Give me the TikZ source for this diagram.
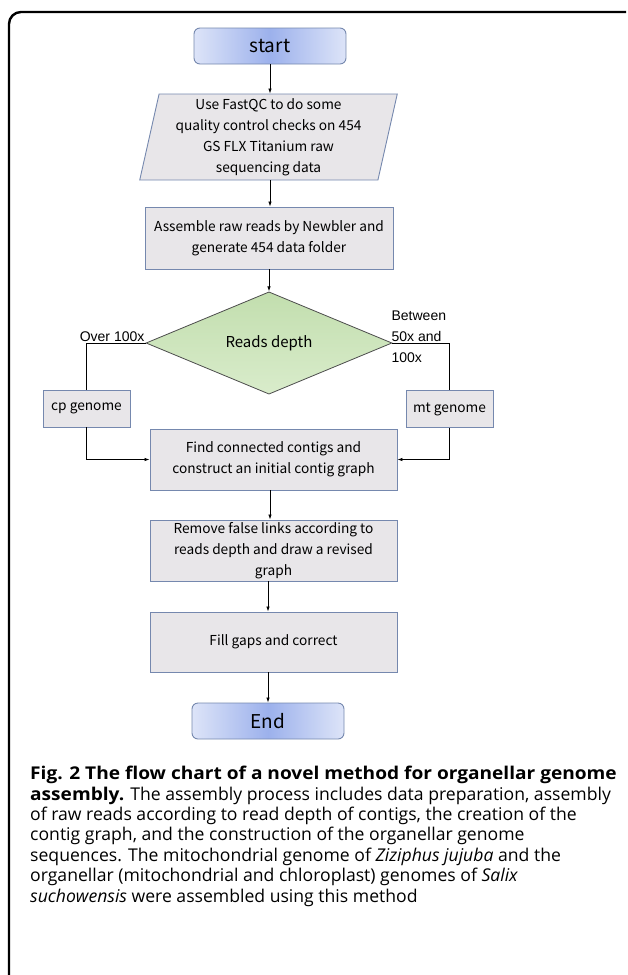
\documentclass[tikz,border=0pt]{standalone}
\usepackage{fontspec}
\setmainfont{Open Sans}[BoldFeatures={FakeStretch=1.085}]
\newfontfamily\chartfont{Noto Sans CJK SC}
\newfontfamily\labelfont{Liberation Sans}
\usepackage{tikz}
\usetikzlibrary{arrows.meta,positioning,calc,shapes.geometric}
\usepackage{xcolor}
\definecolor{boxfill}{HTML}{E8E6E9}
\definecolor{boxline}{HTML}{7588AE}
\definecolor{termedge}{HTML}{DDE4F8}
\definecolor{termmid}{HTML}{9CB1EC}
\definecolor{greentop}{HTML}{C2DEAE}
\definecolor{greenbot}{HTML}{D9ECCB}

\begin{document}
\begin{tikzpicture}[x=1pt,y=-1pt,
every node/.style={align=center,inner sep=2pt,font=\chartfont\fontsize{13.7}{21}\selectfont},
procbox/.style={draw=boxline,fill=boxfill,line width=0.9pt},
termbox/.style={draw=boxline,rounded corners=6pt,line width=0.9pt,left color=termedge,right color=termedge,middle color=termmid,minimum width=152pt,minimum height=36pt,font=\chartfont\fontsize{19}{24}\selectfont},
iobox/.style={procbox,trapezium,trapezium left angle=78,trapezium right angle=102,trapezium stretches=true,minimum width=258pt,minimum height=86pt,inner sep=0pt},
decision/.style={draw=black!70,diamond,top color=greentop,bottom color=greenbot,minimum width=246pt,minimum height=91pt,inner sep=0pt,line width=0.8pt,font=\chartfont\fontsize{15}{20}\selectfont},
branch/.style={font=\labelfont\fontsize{14}{21}\selectfont,inner sep=1pt},
flow/.style={draw,line width=0.8pt,-{Latex[length=5pt,width=3.5pt]}},
link/.style={draw,line width=0.8pt}]
\useasboundingbox (0,0) rectangle (627,975);
% outer frame
\draw[line width=2.4pt,rounded corners=12pt] (9,975) -- (9,12) -- (626,12);
% chart
\node[termbox] (start) at (270,46) {start};
\node[iobox] (qc) at (268.5,137) {Use FastQC to do some\\quality control checks on 454\\GS FLX Titanium raw\\sequencing data};
\node[procbox,minimum width=248pt,minimum height=62pt] (asm) at (269,238) {Assemble raw reads by Newbler and\\generate 454 data folder};
\node[decision] (depth) at (269,343) {Reads depth};
\node[procbox,minimum width=87pt,minimum height=37pt] (cp) at (86.5,408.5) {cp genome};
\node[procbox,minimum width=87pt,minimum height=37pt] (mt) at (449.5,409) {mt genome};
\node[procbox,minimum width=247pt,minimum height=61pt] (find) at (273.5,459.5) {Find connected contigs and\\construct an initial contig graph};
\node[procbox,minimum width=247pt,minimum height=61pt,inner ysep=0pt] (rev) at (273.5,550.5) {Remove false links according to\\reads depth and draw a revised\\graph};
\node[procbox,minimum width=247pt,minimum height=60pt] (fill) at (273.5,642) {Fill gaps and correct};
\node[termbox] (end) at (268,721) {End};
% branch labels
\node[branch,anchor=south east] (over) at (depth.west) {Over 100x};
\node[branch,anchor=west,align=left] (between) at ($(depth.east)+(-2,-6)$) {Between\\50x and\\100x};
% connectors
\draw[flow] (start.south) -- (start.south |- qc.north);
\draw[flow] (start.south |- qc.south) -- (start.south |- asm.north);
\draw[flow] (depth.north |- asm.south) -- (depth.north);
\draw[link] (depth.west) -| (cp.north);
\draw[link] (depth.east) -| (mt.north);
\draw[flow] (cp.south) |- (find.west);
\draw[flow] (mt.south) |- (find.east);
\draw[flow] (start.south |- find.south) -- (start.south |- rev.north);
\draw[flow] (end.north |- rev.south) -- (end.north |- fill.north);
\draw[flow] (end.north |- fill.south) -- (end.north);
% caption
\node[anchor=north west,inner sep=0pt,align=left,font=\fontsize{17.6}{20.4}\selectfont] (caption) at (30,766) {\textbf{Fig. 2 The flow chart of a novel method for organellar genome}\\
\textbf{assembly.} The assembly process includes data preparation, assembly\\
of raw reads according to read depth of contigs, the creation of the\\
contig graph, and the construction of the organellar genome\\
sequences. The mitochondrial genome of \textit{Ziziphus jujuba} and the\\
organellar (mitochondrial and chloroplast) genomes of \textit{Salix}\\
\textit{suchowensis} were assembled using this method};
\end{tikzpicture}
\end{document}
